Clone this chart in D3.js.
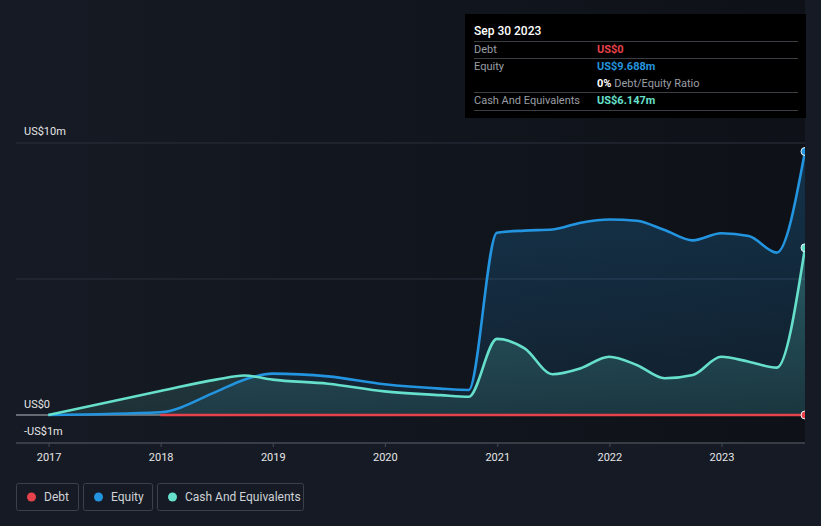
<!DOCTYPE html>
<html><head><meta charset="utf-8">
<script src="https://cdn.jsdelivr.net/npm/d3@7"></script>
<style>
html,body{margin:0;padding:0;background:#151a24;}
svg{display:block;font-family:Roboto,"Noto Sans",sans-serif;}
</style></head>
<body>
<svg id="c" width="821" height="526"></svg>
<script>
const dates = ["2016-12-31","2017-12-31","2018-06-30","2018-09-30","2018-12-31","2019-06-30","2019-12-31","2020-06-30","2020-09-30","2020-12-31","2021-03-31","2021-06-30","2021-09-30","2021-12-31","2022-03-31","2022-06-30","2022-09-30","2022-12-31","2023-03-31","2023-06-30","2023-09-30"];
const equity = [0.0,0.1,0.85,1.3,1.52,1.42,1.13,0.97,0.92,6.7,6.78,6.82,7.07,7.19,7.14,6.8,6.42,6.68,6.58,5.97,9.688];
const cash   = [0.0,0.88,1.3,1.45,1.3,1.15,0.87,0.73,0.67,2.8,2.45,1.5,1.72,2.14,1.84,1.35,1.47,2.14,1.96,1.74,6.147];
const debt   = [null,0,0,0,0,0,0,0,0,0,0,0,0,0,0,0,0,0,0,0,0];
const yearTicks = ["2017","2018","2019","2020","2021","2022","2023"];
const yTickVals = [-1,0,10];
const yTickLabels = ["-US$1m","US$0","US$10m"];
const seriesNames = ["Debt","Equity","Cash And Equivalents"];
const colors = {Debt:"#e5424b",Equity:"#2394df",Cash:"#66e0cb"};

const parse = d3.timeParse("%Y-%m-%d");
const pts = dates.map((d,i)=>({t:parse(d),e:equity[i],c:cash[i],d:debt[i]}));

const svg = d3.select("#c");
const L=16,R=805,T=0,B=443;
const x = d3.scaleTime().domain([parse("2016-09-17"),parse("2023-09-30")]).range([L,R]);
const y = d3.scaleLinear().domain([-1,10]).range([442.2,143]);

const defs = svg.append("defs");
const bgG = defs.append("linearGradient").attr("id","bgG").attr("x1",0).attr("x2",1).attr("y1",0).attr("y2",0);
bgG.append("stop").attr("offset",0).attr("stop-color","#151a24");
bgG.append("stop").attr("offset",1).attr("stop-color","#0e1117");
const eqG = defs.append("linearGradient").attr("id","eqG").attr("gradientUnits","userSpaceOnUse").attr("x1",0).attr("x2",0).attr("y1",y(10)).attr("y2",y(0));
eqG.append("stop").attr("offset",0).attr("stop-color",colors.Equity).attr("stop-opacity",0.26);
eqG.append("stop").attr("offset",1).attr("stop-color",colors.Equity).attr("stop-opacity",0.1);
const caG = defs.append("linearGradient").attr("id","caG").attr("gradientUnits","userSpaceOnUse").attr("x1",0).attr("x2",0).attr("y1",y(7)).attr("y2",y(0));
caG.append("stop").attr("offset",0).attr("stop-color",colors.Cash).attr("stop-opacity",0.28);
caG.append("stop").attr("offset",1).attr("stop-color",colors.Cash).attr("stop-opacity",0.12);
defs.append("clipPath").attr("id","clip").append("rect").attr("x",L).attr("y",T).attr("width",R-L).attr("height",B-T);

svg.append("rect").attr("x",L).attr("y",0).attr("width",R-L).attr("height",B).attr("fill","url(#bgG)");

// gridlines
const grid = svg.append("g");
[10,5].forEach(v=>grid.append("line").attr("x1",L).attr("x2",R).attr("y1",y(v)).attr("y2",y(v)).attr("stroke","#2b313c").attr("stroke-width",1));
grid.append("line").attr("x1",L).attr("x2",R).attr("y1",y(0)).attr("y2",y(0)).attr("stroke","#b8bcc2").attr("stroke-width",1);

// y labels
yTickVals.forEach((v,i)=>{
  const yy = v===10 ? y(v)-8 : v===0 ? y(v)-7 : y(v)-7;
  svg.append("text").attr("x",24).attr("y",yy).attr("fill","#e6e6e6").attr("font-size",11).text(yTickLabels[i]);
});

const plot = svg.append("g").attr("clip-path","url(#clip)");
const curve = d3.curveMonotoneX;
plot.append("path").datum(pts).attr("fill","url(#eqG)")
  .attr("d",d3.area().curve(curve).x(d=>x(d.t)).y0(y(0)).y1(d=>y(d.e)));
plot.append("path").datum(pts).attr("fill","url(#caG)")
  .attr("d",d3.area().curve(curve).x(d=>x(d.t)).y0(y(0)).y1(d=>y(d.c)));
plot.append("path").datum(pts).attr("fill","none").attr("stroke",colors.Equity).attr("stroke-width",2.6)
  .attr("d",d3.line().curve(curve).x(d=>x(d.t)).y(d=>y(d.e)));
plot.append("path").datum(pts).attr("fill","none").attr("stroke",colors.Cash).attr("stroke-width",2.6)
  .attr("d",d3.line().curve(curve).x(d=>x(d.t)).y(d=>y(d.c)));
plot.append("path").datum(pts).attr("fill","none").attr("stroke",colors.Debt).attr("stroke-width",2.6)
  .attr("d",d3.line().defined(d=>d.d!==null).curve(curve).x(d=>x(d.t)).y(d=>y(d.d)));
const last = pts[pts.length-1];
[["e",colors.Equity],["c",colors.Cash],["d",colors.Debt]].forEach(([k,col])=>{
  plot.append("circle").attr("cx",x(last.t)).attr("cy",y(last[k])).attr("r",4).attr("fill",col).attr("stroke","#e8f4f8").attr("stroke-width",1);
});

// x axis
svg.append("line").attr("x1",L).attr("x2",R).attr("y1",B).attr("y2",B).attr("stroke","#454b55").attr("stroke-width",1.5);
const xa = svg.append("g").attr("transform",`translate(0,${B})`)
  .call(d3.axisBottom(x).tickValues(yearTicks.map(s=>parse(s+"-01-01"))).tickFormat(d3.timeFormat("%Y")).tickSize(4).tickPadding(6));
xa.select(".domain").remove();
xa.selectAll(".tick line").attr("stroke","#454b55");
xa.selectAll(".tick text").attr("fill","#e6e6e6").attr("font-size",11).attr("font-family","Roboto,sans-serif");

// legend
const legItems = [{n:seriesNames[0],c:colors.Debt,x:16,w:62},{n:seriesNames[1],c:colors.Equity,x:83,w:69},{n:seriesNames[2],c:colors.Cash,x:157,w:146}];
legItems.forEach(it=>{
  const g = svg.append("g");
  g.append("rect").attr("x",it.x+0.5).attr("y",483.5).attr("width",it.w).attr("height",27).attr("rx",2).attr("fill","none").attr("stroke","#3b414b");
  g.append("circle").attr("cx",it.x+15.5).attr("cy",497).attr("r",4.5).attr("fill",it.c);
  g.append("text").attr("x",it.x+28).attr("y",501).attr("fill","#cfd2d6").attr("font-size",12).text(it.n);
});

// tooltip
const tt = svg.append("g");
tt.append("rect").attr("x",465).attr("y",14).attr("width",341).attr("height",104).attr("fill","#000");
tt.append("text").attr("x",474).attr("y",35).attr("fill","#fff").attr("font-size",12).attr("font-weight",500).text("Sep 30 2023");
[41,58,92,110].forEach(yy=>tt.append("line").attr("x1",474).attr("x2",798).attr("y1",yy+0.5).attr("y2",yy+0.5).attr("stroke","#3a3d42"));
const rows = [
  {l:"Debt",v:"US$0",c:colors.Debt,y:53},
  {l:"Equity",v:"US$9.688m",c:colors.Equity,y:70},
  {l:"Cash And Equivalents",v:"US$6.147m",c:colors.Cash,y:104}
];
rows.forEach(r=>{
  tt.append("text").attr("x",474).attr("y",r.y).attr("fill","#9a9ea4").attr("font-size",11).text(r.l);
  tt.append("text").attr("x",597).attr("y",r.y).attr("fill",r.c).attr("font-size",11).attr("font-weight",700).text(r.v);
});
const ratio = tt.append("text").attr("x",597).attr("y",87).attr("font-size",11);
ratio.append("tspan").attr("fill","#fff").attr("font-weight",700).text("0%");
ratio.append("tspan").attr("fill","#9a9ea4").text(" Debt/Equity Ratio");
</script>
</body></html>
